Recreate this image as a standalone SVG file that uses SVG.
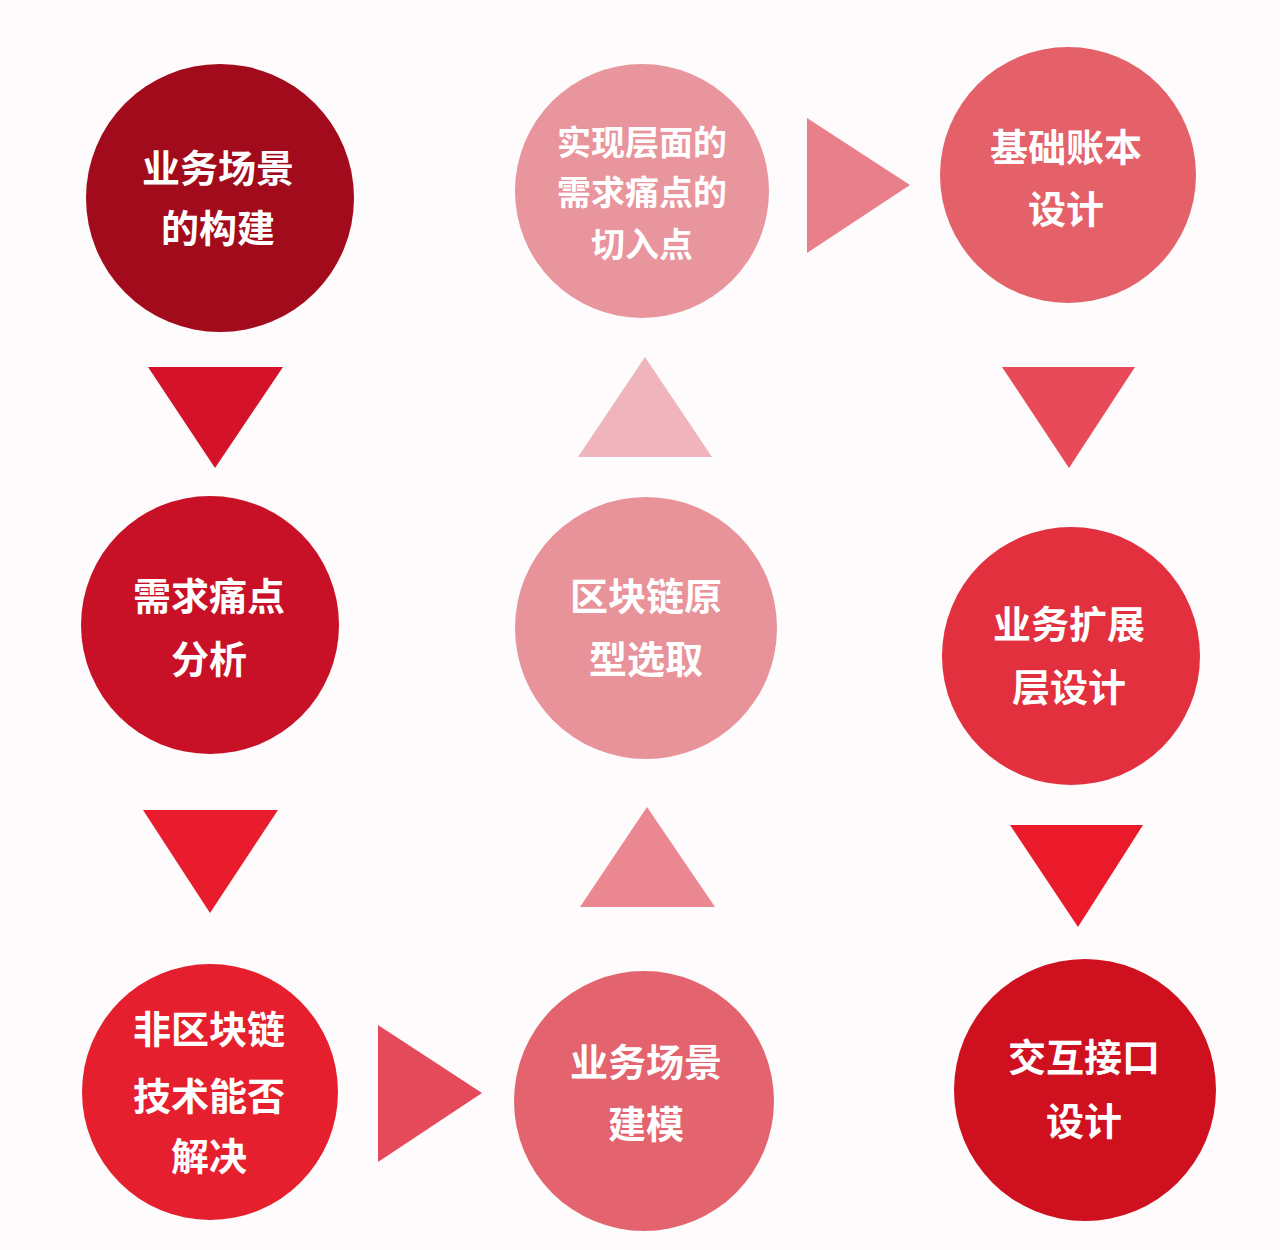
<svg xmlns="http://www.w3.org/2000/svg" width="1280" height="1250" viewBox="0 0 1280 1250">
<style>
.t{font-family:"Noto Sans CJK SC","Noto Sans",sans-serif;font-weight:700;fill:#ffffff;text-anchor:middle;font-size:38px}
.s{font-size:34px}
</style>
<rect x="0" y="0" width="1280" height="1250" fill="#fdfbfb"/>
<g id="connectors">
<polygon points="148,367 283,367 215,468" fill="#d4122a"/>
<polygon points="143,810 278,810 210,913" fill="#e91c2e"/>
<polygon points="578,457 712,457 645,357" fill="#f0b5bc"/>
<polygon points="580,907 715,907 647,807" fill="#eb8791"/>
<polygon points="807,118 910,185 807,253" fill="#ea7f8c"/>
<polygon points="1002,367 1135,367 1069,468" fill="#e84a5a"/>
<polygon points="1010,825 1143,825 1078,927" fill="#eb1a2b"/>
<polygon points="378,1025 482,1093 378,1162" fill="#e54a5a"/>
</g>
<g id="n1"><circle cx="220" cy="198" r="134" fill="#a10b1c"/><text class="t" x="218" y="182">业务场景</text><text class="t" x="218" y="242">的构建</text></g>
<g id="n2"><circle cx="210" cy="625" r="129" fill="#c81126"/><text class="t" x="209" y="610">需求痛点</text><text class="t" x="209" y="673">分析</text></g>
<g id="n3"><circle cx="210" cy="1092" r="128" fill="#e61f2e"/><text class="t" x="209" y="1043">非区块链</text><text class="t" x="209" y="1110">技术能否</text><text class="t" x="209" y="1170">解决</text></g>
<g id="n4"><circle cx="644" cy="1101" r="130" fill="#e3646f"/><text class="t" x="646" y="1076">业务场景</text><text class="t" x="646" y="1138">建模</text></g>
<g id="n5"><circle cx="646" cy="628" r="131" fill="#e8939a"/><text class="t" x="646" y="610">区块链原</text><text class="t" x="646" y="673">型选取</text></g>
<g id="n6"><circle cx="642" cy="191" r="127" fill="#e9959d"/><text class="t s" x="642" y="155">实现层面的</text><text class="t s" x="642" y="205">需求痛点的</text><text class="t s" x="642" y="257">切入点</text></g>
<g id="n7"><circle cx="1068" cy="175" r="128" fill="#e4616a"/><text class="t" x="1066" y="161">基础账本</text><text class="t" x="1066" y="223">设计</text></g>
<g id="n8"><circle cx="1071" cy="656" r="129" fill="#e2303e"/><text class="t" x="1069" y="638">业务扩展</text><text class="t" x="1069" y="701">层设计</text></g>
<g id="n9"><circle cx="1085" cy="1090" r="131" fill="#cf101f"/><text class="t" x="1084" y="1071">交互接口</text><text class="t" x="1084" y="1135">设计</text></g>
</svg>
